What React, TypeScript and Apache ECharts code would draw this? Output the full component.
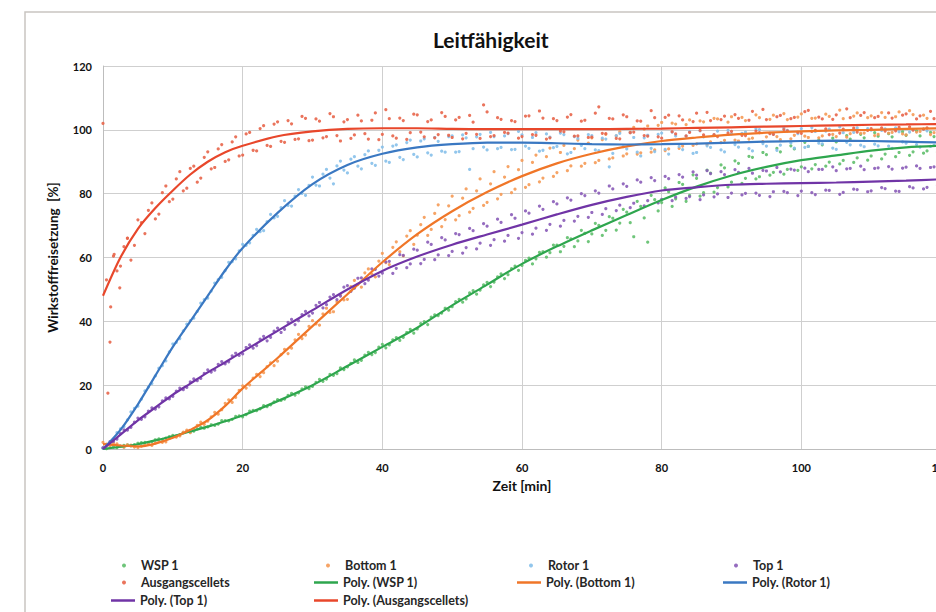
import React, { useEffect, useRef } from "react";
import * as echarts from "echarts";

// measurement times (min): readings on the full minute and on the half minute
const times: number[] = Array.from({ length: 121 }, (_, i) => i);
const halfTimes: number[] = Array.from({ length: 120 }, (_, i) => i + 0.5);

const wsp1 = [
  0.2, 0.5, 0.4, 1.1, 1.0, 1.8, 2.1, 2.3, 3.2, 3.4,
  4.3, 4.4, 5.5, 5.6, 6.8, 6.9, 7.4, 8.9, 8.8, 10.2,
  10.1, 11.9, 12.0, 13.6, 13.8, 15.5, 15.6, 17.4, 17.6, 19.5,
  19.6, 21.8, 21.9, 23.1, 25.4, 25.7, 27.9, 27.8, 30.3, 30.2,
  32.8, 32.6, 34.9, 35.0, 37.5, 37.6, 39.9, 41.3, 41.8, 44.1,
  44.6, 46.9, 47.0, 49.6, 49.8, 52.2, 52.3, 54.9, 54.6, 57.3,
  57.5, 59.8, 59.6, 61.8, 61.5, 63.9, 63.5, 65.8, 65.2, 67.6,
  67.4, 70.1, 68.5, 72.3, 70.8, 74.2, 66.5, 76.0, 64.8, 78.1,
  77.2, 80.6, 78.4, 82.9, 79.5, 84.8, 80.3, 86.4, 81.9, 88.1,
  83.6, 89.5, 84.8, 91.4, 85.3, 92.2, 86.7, 93.1, 87.6, 94.0,
  88.4, 94.8, 89.1, 95.3, 89.9, 96.2, 90.4, 97.1, 91.2, 97.5,
  91.8, 98.0, 92.4, 97.8, 92.9, 98.3, 93.1, 98.1, 93.4, 97.9,
  94.2,
];
const wsp1Half = [
  0.1, 0.6, 0.9, 1.3, 1.4, 2.0, 2.0, 2.9, 3.0, 3.9,
  4.1, 5.1, 5.3, 6.3, 6.5, 7.6, 7.8, 8.9, 9.3, 10.4,
  10.8, 12.1, 12.6, 13.3, 14.8, 15.2, 16.8, 16.9, 18.8, 18.9,
  20.9, 21.2, 23.4, 23.6, 24.9, 26.8, 27.1, 29.4, 29.6, 31.9,
  31.7, 34.2, 34.0, 36.5, 36.3, 39.3, 39.0, 42.0, 42.6, 43.5,
  46.2, 46.0, 48.9, 48.5, 51.4, 50.9, 53.9, 53.4, 56.5, 56.0,
  59.1, 58.0, 61.6, 60.1, 63.9, 61.8, 66.2, 63.4, 68.5, 65.0,
  70.7, 66.9, 72.8, 68.6, 75.1, 70.9, 77.6, 72.4, 79.5, 74.6,
  81.8, 76.0, 83.5, 77.6, 85.9, 79.2, 87.4, 80.5, 89.0, 82.1,
  90.3, 83.2, 91.7, 84.6, 92.9, 85.8, 94.2, 86.1, 95.0, 87.3,
  96.1, 87.8, 96.8, 88.6, 97.4, 89.3, 98.2, 89.8, 98.6, 90.5,
  99.1, 90.9, 98.8, 91.6, 99.4, 92.0, 99.7, 92.7, 99.2, 93.0,
];

const bottom1 = [
  2.1, 1.0, 1.6, 0.5, 1.2, 0.4, 1.4, 1.1, 2.5, 2.2,
  3.9, 4.1, 5.9, 6.3, 8.4, 8.7, 11.5, 12.3, 15.4, 16.2,
  19.8, 20.1, 23.4, 23.9, 27.0, 27.5, 31.2, 31.6, 35.9, 35.7,
  40.2, 38.8, 44.1, 43.0, 48.2, 46.9, 52.8, 50.7, 56.4, 53.9,
  61.3, 57.8, 64.9, 60.5, 68.4, 67.0, 72.6, 68.8, 76.5, 71.9,
  79.2, 73.1, 81.5, 75.4, 84.6, 77.3, 86.9, 79.8, 88.5, 81.4,
  90.4, 82.8, 92.1, 84.9, 94.3, 86.6, 95.1, 88.7, 96.8, 89.5,
  97.5, 90.4, 98.6, 91.2, 99.4, 92.5, 100.8, 92.8, 101.2, 93.7,
  102.3, 94.0, 101.8, 94.9, 103.1, 95.6, 102.5, 96.2, 103.4, 96.7,
  104.1, 96.5, 102.9, 97.4, 103.8, 97.8, 104.6, 96.9, 103.2, 98.3,
  105.0, 97.6, 103.7, 98.1, 104.2, 97.9, 103.5, 98.8, 105.3, 99.0,
  104.4, 98.6, 103.9, 99.2, 105.6, 98.4, 104.8, 99.5, 103.6, 99.1,
  102.8,
];
const bottom1Half = [
  1.5, 1.9, 0.9, 1.3, 0.6, 0.9, 1.5, 1.9, 2.1, 3.3,
  3.7, 5.3, 5.1, 7.4, 7.7, 10.1, 10.9, 14.3, 14.6, 18.4,
  19.1, 22.2, 22.7, 25.8, 26.1, 29.6, 29.9, 34.2, 34.6, 38.4,
  39.2, 42.3, 42.8, 46.1, 46.7, 50.9, 51.6, 55.2, 54.8, 58.9,
  58.4, 63.2, 61.8, 66.7, 64.1, 70.3, 66.9, 73.8, 69.7, 76.2,
  71.8, 78.6, 74.2, 80.9, 76.3, 83.1, 78.4, 85.2, 80.3, 87.5,
  82.0, 89.8, 83.7, 91.6, 85.4, 92.9, 87.2, 94.1, 88.6, 95.8,
  89.7, 96.9, 90.9, 98.1, 91.8, 99.3, 92.4, 100.2, 93.0, 101.4,
  93.5, 102.1, 94.2, 101.6, 95.1, 102.8, 95.4, 103.6, 96.0, 102.4,
  96.8, 103.9, 97.1, 104.7, 96.3, 103.3, 97.9, 105.1, 97.2, 104.0,
  98.0, 103.6, 97.5, 104.9, 98.6, 106.2, 97.7, 104.3, 98.9, 103.8,
  98.2, 105.4, 99.0, 104.1, 98.7, 106.0, 99.3, 104.6, 98.5, 105.2,
];

const rotor1 = [
  0.3, 1.5, 5.1, 7.0, 11.6, 13.4, 18.2, 20.5, 25.3, 27.6,
  32.9, 34.6, 39.1, 41.0, 45.7, 47.3, 52.0, 53.8, 58.5, 59.6,
  64.1, 64.6, 68.8, 68.4, 73.5, 72.9, 77.8, 76.1, 81.3, 79.5,
  85.2, 82.4, 87.6, 83.1, 90.2, 86.5, 91.6, 87.8, 93.4, 88.9,
  94.6, 89.8, 95.3, 90.7, 96.8, 91.5, 97.2, 92.1, 96.4, 93.0,
  98.1, 93.2, 97.5, 94.1, 98.6, 93.7, 97.9, 94.5, 98.8, 93.9,
  98.4, 94.2, 99.1, 93.6, 97.7, 94.8, 98.5, 92.9, 97.3, 94.1,
  98.2, 93.5, 97.1, 92.6, 98.9, 94.0, 97.6, 91.8, 98.3, 93.2,
  99.0, 92.4, 98.1, 93.8, 99.4, 92.9, 97.8, 94.5, 99.6, 93.1,
  98.7, 94.6, 99.3, 93.4, 100.1, 94.9, 98.6, 95.2, 99.8, 94.3,
  100.4, 94.8, 99.5, 95.6, 100.2, 93.9, 99.1, 95.3, 100.6, 94.7,
  99.9, 95.0, 100.3, 94.2, 99.4, 95.8, 100.1, 94.6, 99.7, 95.1,
  98.9,
];
const rotor1Half = [
  1.2, 3.0, 6.3, 9.1, 12.7, 15.6, 19.4, 22.9, 26.1, 30.4,
  33.4, 37.0, 40.2, 43.1, 46.8, 49.5, 53.1, 55.9, 58.7, 62.1,
  63.8, 66.9, 68.1, 71.2, 72.4, 75.6, 76.3, 79.2, 80.1, 82.6,
  82.7, 86.1, 84.9, 88.7, 87.4, 90.8, 88.6, 92.2, 89.5, 93.6,
  90.2, 94.9, 91.4, 96.0, 92.3, 96.5, 92.8, 97.6, 93.3, 97.9,
  93.0, 98.4, 87.6, 97.8, 94.6, 99.2, 94.1, 98.1, 93.8, 99.5,
  94.9, 97.6, 93.3, 98.7, 94.4, 99.0, 92.5, 97.9, 95.1, 98.5,
  93.7, 97.4, 88.4, 98.2, 94.7, 99.1, 93.0, 97.5, 94.2, 98.6,
  93.9, 99.3, 94.8, 98.0, 92.6, 99.7, 95.0, 98.4, 93.7, 99.8,
  95.4, 98.9, 94.1, 100.3, 95.7, 99.0, 93.6, 100.5, 95.9, 98.8,
  94.5, 100.7, 95.8, 99.6, 94.3, 100.9, 96.1, 99.2, 95.2, 100.4,
  95.5, 99.8, 94.9, 100.6, 96.2, 99.3, 95.4, 100.2, 94.8, 99.5,
];

const top1 = [
  0.4, 2.3, 3.1, 6.0, 6.8, 9.7, 10.1, 12.9, 13.2, 16.0,
  16.5, 19.1, 19.3, 22.0, 22.1, 24.8, 24.7, 27.4, 27.3, 30.0,
  29.8, 32.6, 32.4, 35.3, 35.0, 37.9, 37.5, 40.6, 40.2, 43.1,
  42.6, 45.9, 45.2, 48.4, 47.9, 51.2, 50.4, 53.6, 52.9, 56.3,
  55.1, 58.8, 56.6, 60.7, 58.0, 62.3, 59.4, 64.1, 60.8, 65.5,
  61.9, 67.2, 63.1, 68.4, 64.5, 69.8, 65.6, 71.0, 66.9, 72.3,
  67.8, 73.9, 69.2, 75.1, 70.4, 76.8, 71.6, 78.0, 72.9, 79.4,
  74.1, 80.2, 75.3, 81.5, 76.4, 82.3, 77.0, 83.6, 77.8, 84.1,
  78.2, 84.7, 78.9, 85.2, 79.1, 85.8, 79.6, 86.3, 79.9, 86.0,
  80.2, 86.7, 80.1, 86.4, 79.5, 87.1, 80.6, 86.8, 80.3, 87.4,
  80.8, 86.9, 79.7, 87.6, 81.0, 87.2, 80.4, 87.9, 81.3, 87.5,
  80.9, 88.1, 81.6, 87.7, 80.7, 88.3, 81.8, 87.9, 82.0, 88.4,
  84.2,
];
const top1Half = [
  1.1, 2.4, 4.8, 5.9, 8.4, 9.3, 11.9, 12.5, 15.1, 15.7,
  18.1, 18.6, 21.0, 21.4, 23.7, 24.1, 26.5, 26.7, 29.2, 29.3,
  31.8, 31.6, 34.4, 33.9, 36.9, 36.5, 39.7, 39.0, 42.1, 41.7,
  45.0, 44.2, 47.6, 46.8, 50.7, 49.4, 53.5, 51.8, 56.4, 54.2,
  58.6, 55.0, 60.9, 56.8, 62.6, 58.1, 64.8, 59.3, 66.2, 60.6,
  67.5, 61.4, 69.1, 62.7, 70.6, 63.8, 72.0, 65.1, 73.4, 66.0,
  74.6, 67.3, 76.1, 68.5, 77.5, 69.8, 78.7, 71.4, 80.0, 72.6,
  80.9, 73.5, 82.4, 74.7, 83.1, 75.6, 84.3, 76.2, 85.0, 77.1,
  85.4, 77.8, 86.0, 78.5, 86.8, 78.1, 87.2, 79.0, 86.9, 78.8,
  87.5, 79.6, 87.9, 80.2, 87.3, 79.1, 88.2, 80.7, 87.7, 79.4,
  88.0, 80.3, 87.6, 81.1, 88.4, 79.8, 87.8, 81.4, 88.6, 80.6,
  87.9, 81.9, 88.5, 80.8, 88.0, 82.2, 88.7, 81.5, 88.2, 82.6,
];

const ausgang = [
  102.0, 33.5, 55.8, 63.4, 59.2, 71.8, 67.5, 77.1, 73.6, 82.4,
  78.3, 86.9, 81.7, 88.6, 84.9, 93.1, 88.2, 95.4, 90.6, 97.8,
  92.1, 99.2, 93.4, 101.3, 94.8, 102.5, 96.1, 101.9, 97.2, 103.6,
  96.8, 102.7, 97.9, 104.1, 96.5, 103.2, 98.4, 102.8, 97.1, 105.3,
  98.6, 103.5, 97.4, 102.9, 99.1, 104.7, 97.8, 103.1, 98.5, 104.2,
  97.6, 103.9, 98.9, 102.4, 97.3, 105.6, 98.2, 103.3, 99.0, 102.6,
  97.9, 104.4, 98.3, 103.7, 97.5, 102.9, 99.4, 104.8, 98.1, 103.0,
  97.7, 107.2, 98.8, 103.4, 97.2, 104.1, 99.3, 102.7, 98.0, 103.8,
  97.4, 104.6, 98.7, 103.1, 99.2, 105.2, 98.4, 102.9, 97.9, 104.3,
  99.5, 103.6, 98.2, 105.8, 99.1, 103.2, 98.6, 104.5, 99.7, 103.9,
  98.9, 106.1, 99.8, 103.4, 98.5, 104.7, 100.2, 103.8, 99.3, 105.4,
  100.4, 104.2, 99.6, 103.7, 100.8, 105.0, 99.9, 104.4, 100.6, 103.5,
  101.2,
];
const ausgangHalf = [
  53.0, 60.4, 57.3, 66.1, 63.8, 70.9, 74.8, 72.1, 80.3, 77.5,
  84.6, 80.9, 87.9, 83.6, 91.4, 87.8, 94.0, 90.1, 96.2, 91.8,
  98.7, 93.6, 100.4, 95.1, 101.8, 96.4, 102.9, 97.0, 104.2, 96.6,
  103.4, 97.5, 105.1, 98.2, 102.5, 97.3, 104.6, 98.8, 103.0, 96.9,
  106.3, 98.1, 103.7, 97.0, 104.9, 99.3, 102.6, 97.5, 105.4, 98.3,
  103.1, 97.2, 104.5, 98.6, 107.8, 97.9, 103.8, 99.2, 102.9, 97.4,
  104.3, 98.5, 105.9, 97.1, 103.5, 99.6, 104.0, 98.0, 102.7, 97.6,
  105.2, 98.9, 103.6, 97.3, 104.7, 99.1, 102.8, 98.2, 106.0, 97.8,
  103.9, 99.4, 104.4, 98.1, 102.6, 99.8, 105.5, 98.5, 103.2, 99.0,
  104.8, 98.3, 103.0, 99.6, 106.4, 98.8, 104.1, 100.1, 103.5, 99.2,
  105.7, 99.5, 104.0, 100.3, 103.3, 99.0, 106.6, 100.5, 104.5, 99.8,
  103.8, 100.6, 105.3, 99.7, 104.6, 100.9, 103.4, 100.2, 105.8, 101.0,
];
const ausgangExtra: [number, number][] = [
  [0.7, 17.5], [1.1, 44.5], [1.6, 61.0], [2.4, 50.5], [3.5, 66.0],
];

// polynomial trend lines
const trendT = [0, 2.5, 5, 7.5, 10, 12.5, 15, 17.5, 20, 25, 30, 35, 40, 45, 50, 55, 60, 65, 70, 75, 80, 85, 90, 95, 100, 105, 110, 115, 120];
const polyWsp = [0, 0.7, 1.5, 2.7, 4, 5.5, 7, 8.7, 10.5, 15, 20, 26, 32, 38, 45, 51.5, 58, 63.5, 68.5, 73.3, 78, 82.2, 85.7, 88.4, 90.5, 92, 93.5, 94.5, 95];
const polyBottom = [1.5, 1.1, 0.8, 1.7, 3.5, 6, 9, 13.5, 19, 28.5, 38.5, 48.5, 58.5, 67.3, 74.5, 80.5, 85.5, 89.5, 92.5, 94.8, 96.5, 97.6, 98.5, 99.1, 99.5, 99.8, 100, 100.3, 100.5];
const polyRotor = [0, 6, 14, 23, 32, 40, 48, 56, 63, 74, 83, 89, 92.5, 94.5, 95.5, 96, 96, 95.8, 95.5, 95.4, 95.5, 95.7, 96, 96.3, 96.5, 96.6, 96.5, 96.3, 96];
const polyTop = [0, 4.5, 9, 13, 17, 20.5, 24, 27.2, 30.5, 37, 43.5, 50, 55.8, 60.3, 64, 67.2, 70.3, 73.5, 76.5, 79, 81, 82, 82.8, 83.1, 83.3, 83.5, 83.8, 84.1, 84.5];
const polyAusgang = [48, 60, 69, 75.5, 81, 86, 90, 93, 95, 98, 99.5, 100.3, 100.5, 100.5, 100.3, 100.2, 100.2, 100.2, 100.2, 100.3, 100.4, 100.6, 100.8, 101, 101.2, 101.4, 101.6, 101.7, 101.8];

const xTicks = [0, 20, 40, 60, 80, 100, 120];
const yTicks = [0, 20, 40, 60, 80, 100, 120];

const FONT = "Lato, 'Noto Sans', sans-serif";

export default function App() {
  const ref = useRef<HTMLDivElement>(null);
  useEffect(() => {
    if (!ref.current) return;
    const chart = echarts.init(ref.current, null, { renderer: "svg" });
    const pair = (arr: number[]) => arr.map((v, i) => [times[i], v]);
    const hpair = (arr: number[]) => arr.map((v, i) => [halfTimes[i], v]);
    const tpair = (arr: number[]) => arr.map((v, i) => [trendT[i], v]);

    const scatters = [
      { name: "WSP 1", data: [...pair(wsp1), ...hpair(wsp1Half)], color: "#5fbf6c" },
      { name: "Bottom 1", data: [...pair(bottom1), ...hpair(bottom1Half)], color: "#f59a55" },
      { name: "Rotor 1", data: [...pair(rotor1), ...hpair(rotor1Half)], color: "#86c0ea" },
      { name: "Top 1", data: [...pair(top1), ...hpair(top1Half)], color: "#8a5cb8" },
      { name: "Ausgangscellets", data: [...pair(ausgang), ...hpair(ausgangHalf), ...ausgangExtra], color: "#e8654a" },
    ];
    const lines = [
      { name: "Poly. (WSP 1)", data: tpair(polyWsp), color: "#2ea64e" },
      { name: "Poly. (Bottom 1)", data: tpair(polyBottom), color: "#f07628" },
      { name: "Poly. (Rotor 1)", data: tpair(polyRotor), color: "#3a78c2" },
      { name: "Poly. (Top 1)", data: tpair(polyTop), color: "#7034a6" },
      { name: "Poly. (Ausgangscellets)", data: tpair(polyAusgang), color: "#e8472b" },
    ];

    const legendPos: { name: string; left: number; top: number; line: boolean }[] = [
      { name: "WSP 1", left: 122, top: 559, line: false },
      { name: "Bottom 1", left: 326, top: 559, line: false },
      { name: "Rotor 1", left: 529, top: 559, line: false },
      { name: "Top 1", left: 734, top: 559, line: false },
      { name: "Ausgangscellets", left: 122, top: 576, line: false },
      { name: "Poly. (WSP 1)", left: 314, top: 576, line: true },
      { name: "Poly. (Bottom 1)", left: 517, top: 576, line: true },
      { name: "Poly. (Rotor 1)", left: 723, top: 576, line: true },
      { name: "Poly. (Top 1)", left: 111, top: 594, line: true },
      { name: "Poly. (Ausgangscellets)", left: 314, top: 594, line: true },
    ];

    const option: any = {
      animation: false,
      backgroundColor: "#ffffff",
      textStyle: { fontFamily: FONT },
      title: {
        text: "Leitfähigkeit",
        left: 428,
        top: 24,
        textStyle: { fontFamily: FONT, fontSize: 21, fontWeight: "bold", color: "#111" },
      },
      graphic: [
        {
          type: "rect",
          shape: { x: 25, y: 12, width: 1000, height: 700 },
          style: { fill: "none", stroke: "#c9c5c1", lineWidth: 1.5 },
          silent: true,
        },
      ],
      legend: legendPos.map((l) => ({
        left: l.left,
        top: l.top,
        itemWidth: 24,
        itemHeight: l.line ? 2.5 : 4,
        padding: 0,
        data: [{ name: l.name, icon: l.line ? "rect" : "circle" }],
        textStyle: { fontFamily: FONT, fontSize: 12.5, fontWeight: "bold", color: "#262626" },
        selectedMode: false,
      })),
      grid: { left: 103, top: 66, width: 838, height: 383, containLabel: false, outerBoundsMode: "none" },
      xAxis: {
        type: "value",
        min: xTicks[0],
        max: xTicks[xTicks.length - 1],
        interval: 20,
        name: "Zeit [min]",
        nameLocation: "middle",
        nameGap: 29,
        nameTextStyle: { fontFamily: FONT, fontSize: 14, fontWeight: "bold", color: "#111" },
        axisLine: { show: true, lineStyle: { color: "#bdbdbd" } },
        axisTick: { show: false },
        axisLabel: { fontFamily: FONT, fontSize: 11, fontWeight: "bold", color: "#111", margin: 13 },
        splitLine: { show: true, lineStyle: { color: "#cfcfcf", width: 1 } },
      },
      yAxis: {
        type: "value",
        min: yTicks[0],
        max: yTicks[yTicks.length - 1],
        interval: 20,
        name: "Wirkstofffreisetzung  [%]",
        nameLocation: "middle",
        nameGap: 43,
        nameTextStyle: { fontFamily: FONT, fontSize: 13.5, fontWeight: "bold", color: "#111" },
        axisLine: { show: true, lineStyle: { color: "#bdbdbd" } },
        axisTick: { show: false },
        axisLabel: { fontFamily: FONT, fontSize: 11, fontWeight: "bold", color: "#111", margin: 11 },
        splitLine: { show: true, lineStyle: { color: "#cfcfcf", width: 1 } },
      },
      series: [
        ...scatters.map((s) => ({
          type: "scatter",
          name: s.name,
          data: s.data,
          symbol: "circle",
          symbolSize: 3.2,
          itemStyle: { color: s.color, opacity: 0.9 },
          silent: true,
        })),
        ...lines.map((s) => ({
          type: "line",
          name: s.name,
          data: s.data,
          smooth: 0.3,
          showSymbol: false,
          symbol: "none",
          itemStyle: { color: s.color },
          lineStyle: { color: s.color, width: 2.2 },
          silent: true,
        })),
      ],
    };
    chart.setOption(option);
    return () => chart.dispose();
  }, []);
  return (
    <div
      ref={ref}
      style={{ position: "fixed", left: 0, top: 0, width: 936, height: 612, background: "#fff" }}
    />
  );
}
